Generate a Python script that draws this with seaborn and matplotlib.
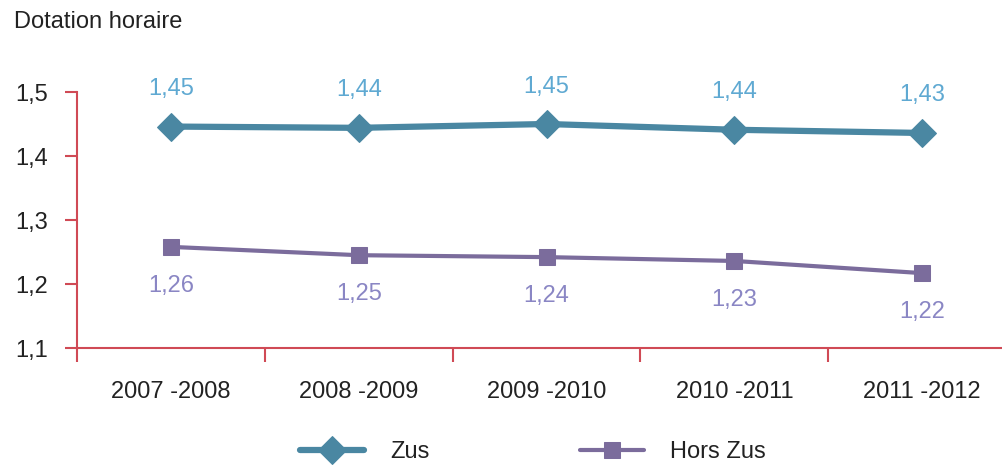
import matplotlib
matplotlib.use("Agg")
import matplotlib.pyplot as plt
import seaborn as sns
import pandas as pd

years = ["2007 -2008", "2008 -2009", "2009 -2010", "2010 -2011", "2011 -2012"]
zus = [1.446, 1.444, 1.450, 1.441, 1.436]
hors_zus = [1.258, 1.245, 1.242, 1.236, 1.217]
zus_labels = ["1,45", "1,44", "1,45", "1,44", "1,43"]
hors_labels = ["1,26", "1,25", "1,24", "1,23", "1,22"]
yticks = [1.1, 1.2, 1.3, 1.4, 1.5]
ytick_labels = ["1,1", "1,2", "1,3", "1,4", "1,5"]

sns.set_theme(style="white")
plt.rcParams["font.family"] = ["Liberation Sans", "DejaVu Sans"]

c_zus = "#4a87a2"
c_hors = "#7b6c9c"
c_zus_lab = "#5fa9d2"
c_hors_lab = "#8a86c4"
c_axis = "#d04a55"
c_text = "#222222"

df = pd.DataFrame({
    "x": list(range(len(years))) * 2,
    "v": zus + hors_zus,
    "s": ["Zus"] * len(years) + ["Hors Zus"] * len(years),
})

fig = plt.figure(figsize=(10.03, 4.65), dpi=100)
ax = fig.add_axes([77 / 1003, 1 - 348 / 465, 1 - 77 / 1003, (348 - 92) / 465])

sns.lineplot(data=df[df.s == "Zus"], x="x", y="v", ax=ax, color=c_zus, lw=4.5,
             marker="D", markersize=14, markeredgecolor=c_zus, label="Zus", legend=False)
sns.lineplot(data=df[df.s == "Hors Zus"], x="x", y="v", ax=ax, color=c_hors, lw=3,
             marker="s", markersize=12, markeredgecolor=c_hors, label="Hors Zus", legend=False)

for i, (v, t) in enumerate(zip(zus, zus_labels)):
    ax.annotate(t, (i, v), xytext=(0, 27), textcoords="offset points", ha="center",
                va="center", fontsize=17, color=c_zus_lab)
for i, (v, t) in enumerate(zip(hors_zus, hors_labels)):
    ax.annotate(t, (i, v), xytext=(0, -28), textcoords="offset points", ha="center",
                va="center", fontsize=17, color=c_hors_lab)

ax.set_xlim(-0.5, 4.43)
ax.set_ylim(1.1, 1.5)
ax.set_yticks(yticks)
ax.set_yticklabels(ytick_labels, fontsize=17, color=c_text)
ax.set_xticks(range(len(years)))
ax.set_xticklabels(years, fontsize=17, color=c_text)
ax.set_xticks([-0.5, 0.5, 1.5, 2.5, 3.5], minor=True)
ax.tick_params(axis="x", which="major", length=0, pad=24)
ax.tick_params(axis="x", which="minor", length=10, width=1.5, color=c_axis, direction="out", bottom=True)
ax.tick_params(axis="y", which="major", length=9, width=1.5, color=c_axis, direction="out", left=True, pad=12)
ax.set_xlabel("")
ax.set_ylabel("")
for s in ["top", "right"]:
    ax.spines[s].set_visible(False)
for s in ["left", "bottom"]:
    ax.spines[s].set_color(c_axis)
    ax.spines[s].set_linewidth(1.5)
ax.grid(False)

fig.text(14 / 1003, 1 - 22 / 465, "Dotation horaire", fontsize=17, color=c_text, va="center", ha="left")

h, l = ax.get_legend_handles_labels()
fig.legend(h, l, loc="center", bbox_to_anchor=(533 / 1003, 1 - 452 / 465), ncol=2, frameon=False,
           fontsize=17, handlelength=2.7, handletextpad=1.1, columnspacing=6.4, labelcolor=c_text)

fig.savefig("out.png", dpi=100)
